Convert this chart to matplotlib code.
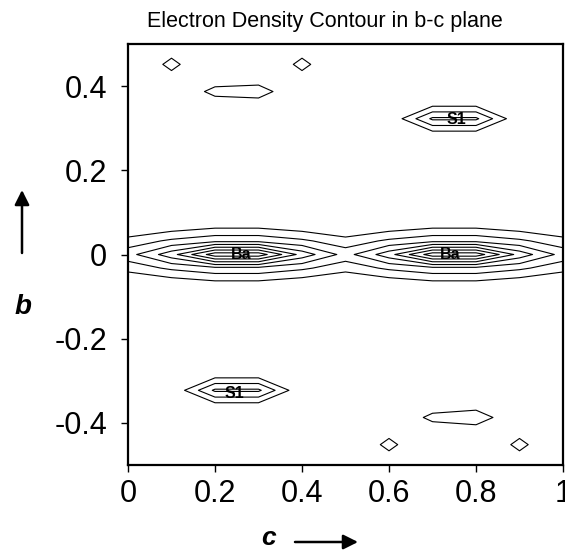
import numpy as np
import matplotlib
matplotlib.use("Agg")
import matplotlib.pyplot as plt

plt.rcParams['font.family'] = ['Liberation Sans', 'DejaVu Sans']

# grid of the density map (c along x, b along y)
c_vals = np.linspace(0, 1, 11)
b_step = 1 / 31
b_index = np.arange(-15, 16)

contour_levels = [1, 2, 3, 4, 5, 6, 7]

# density values on the grid rows
ba_row0 = [2.6, 4.6, 7.6, 7.6, 4.6, 2.6, 4.6, 7.6, 7.6, 4.6, 2.6]
ba_row1 = [1.4, 2.2, 2.73, 2.73, 2.2, 1.4, 2.2, 2.73, 2.73, 2.2, 1.4]
ba_row2 = [0.0, 0.5, 0.89, 0.89, 0.5, 0.0, 0.5, 0.89, 0.89, 0.5, 0.0]
s1_up_mid = [0, 0, 0, 0, 0, 0, 0.06, 3.2, 3.2, 0.06, 0]
s1_up_side = [0, 0, 0, 0, 0, 0, 0, 0.8, 0.8, 0, 0]
s1_lo_mid = [0, 0.06, 3.2, 3.2, 0.06, 0, 0, 0, 0, 0, 0]
s1_lo_side = [0, 0, 0.8, 0.8, 0, 0, 0, 0, 0, 0, 0]
weak_up = [0, 0, 1.32, 1.5, 0, 0, 0, 0, 0, 0, 0]
weak_up_side = [0, 0, 0.4, 0.45, 0, 0, 0, 0, 0, 0, 0]
weak_lo = [0, 0, 0, 0, 0, 0, 0, 1.27, 1.64, 0, 0]
weak_lo_side = [0, 0, 0, 0, 0, 0, 0, 0.4, 0.45, 0, 0]
spot_up = [0, 1.25, 0, 0, 1.25, 0, 0, 0, 0, 0, 0]
spot_up_side = [0, 0.7, 0, 0, 0.7, 0, 0, 0, 0, 0, 0]
spot_lo = [0, 0, 0, 0, 0, 0, 1.25, 0, 0, 1.25, 0]
spot_lo_side = [0, 0, 0, 0, 0, 0, 0.7, 0, 0, 0.7, 0]

# (grid row, values) pairs; rows that share an index are added together
rows = [(0, ba_row0), (1, ba_row1), (-1, ba_row1), (2, ba_row2), (-2, ba_row2),
        (10, s1_up_mid), (9, s1_up_side), (11, s1_up_side),
        (-10, s1_lo_mid), (-9, s1_lo_side), (-11, s1_lo_side),
        (12, weak_up), (11, weak_up_side), (13, weak_up_side),
        (-12, weak_lo), (-11, weak_lo_side), (-13, weak_lo_side),
        (14, spot_up), (13, spot_up_side), (15, spot_up_side),
        (-14, spot_lo), (-13, spot_lo_side), (-15, spot_lo_side)]

atom_names = ['Ba', 'Ba', 'S1', 'S1']
atom_c = [0.26, 0.74, 0.755, 0.245]
atom_b = [0.0, 0.0, 0.32, -0.33]

Z = np.zeros((len(b_index), len(c_vals)))
for k, vals in rows:
    Z[k + 15] += vals
b_vals = b_index * b_step

W, H = 565, 552
fig = plt.figure(figsize=(W / 100, H / 100), dpi=100)
ax = fig.add_axes([128 / W, 1 - 465 / H, 435 / W, 421 / H])

ax.contour(c_vals, b_vals, Z, levels=contour_levels, colors='k', linewidths=0.8)
for name, c, b in zip(atom_names, atom_c, atom_b):
    ax.text(c, b, name, fontsize=11.5, fontweight='bold', ha='center', va='center')

ax.set_xlim(0, 1)
ax.set_ylim(-0.5, 0.5)
ax.set_xticks([0, 0.2, 0.4, 0.6, 0.8, 1])
ax.set_xticklabels(['0', '0.2', '0.4', '0.6', '0.8', '1'])
ax.set_yticks([-0.4, -0.2, 0, 0.2, 0.4])
ax.set_yticklabels(['-0.4', '-0.2', '0', '0.2', '0.4'])
ax.tick_params(direction='out', length=5, width=1, labelsize=22)
ax.tick_params(axis='y', pad=10)
ax.tick_params(axis='x', pad=5)
for s in ax.spines.values():
    s.set_linewidth(1.6)

fig.text(325 / W, 1 - 22 / H, 'Electron Density Contour in b-c plane',
         fontsize=15.5, ha='center', va='center')

fig.text(23 / W, 1 - 307 / H, 'b', fontsize=20, fontweight='bold', fontstyle='italic',
         ha='center', va='center')
fig.text(268 / W, 1 - 538 / H, 'c', fontsize=19, fontweight='bold', fontstyle='italic',
         ha='center', va='center')
arrow = dict(arrowstyle='-|>', color='k', lw=1.8, mutation_scale=22, shrinkA=0, shrinkB=0)
ax.annotate('', xy=(22 / W, 1 - 190 / H), xytext=(22 / W, 1 - 253 / H),
            xycoords='figure fraction', textcoords='figure fraction', arrowprops=arrow)
ax.annotate('', xy=(358 / W, 1 - 542 / H), xytext=(295 / W, 1 - 542 / H),
            xycoords='figure fraction', textcoords='figure fraction', arrowprops=arrow)

fig.savefig('out.png', dpi=100)
